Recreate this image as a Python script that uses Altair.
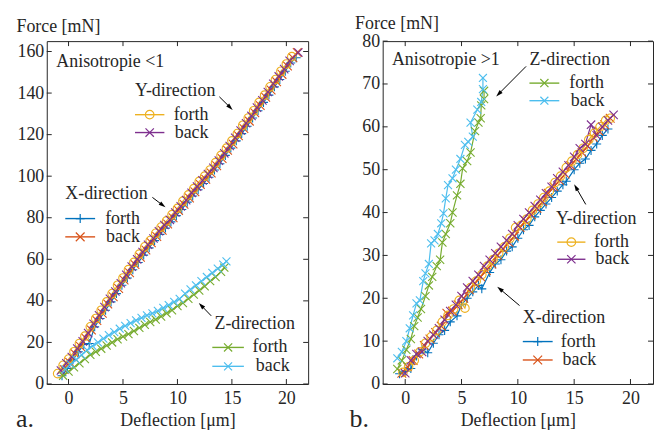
import math
import altair as alt
import pandas as pd

FONT = "Liberation Serif"
INK = "#262626"

SERIES = ["X forth", "X back", "Y forth", "Y back", "Z forth", "Z back"]
COLORS = ["#0072BD", "#D95319", "#EDB120", "#7E2F8E", "#77AC30", "#4DBEEE"]
PLUS = "M-1,0L1,0M0,-1L0,1"
CROSS = "M-1,-1L1,1M-1,1L1,-1"
SHAPES = [PLUS, CROSS, "circle", CROSS, CROSS, CROSS]
SIZES = [81, 64, 70, 64, 64, 64]
HEAD = "M0,-1L0.6,1L-0.6,1Z"

X_TICKS = [0, 5, 10, 15, 20]
A_Y_TICKS = [0, 20, 40, 60, 80, 100, 120, 140, 160]
B_Y_TICKS = [0, 10, 20, 30, 40, 50, 60, 70, 80]

# ---------------- panel a data ----------------
A_XF_X = [-0.6, -0.1, 0.4, 0.9, 1.4, 1.9, 2.4, 2.9, 3.4, 3.9, 4.4, 4.9, 5.4, 5.9, 6.4, 6.9, 7.4, 7.9, 8.4, 8.9, 9.4, 9.9,
          10.4, 10.9, 11.4, 11.9, 12.4, 12.9, 13.4, 13.9, 14.4, 14.9, 15.4, 15.9, 16.4, 16.9, 17.4, 17.9, 18.4, 18.9, 19.4,
          19.9, 20.4, 20.9]
A_XF_Y = [4.0, 7.5, 11.5, 15.5, 19.0, 19.5, 27.5, 31.5, 35.5, 39.5, 43.5, 47.5, 51.0, 55.0, 58.5, 62.0, 65.5, 69.0, 72.0,
          75.0, 78.0, 81.0, 84.0, 87.5, 90.5, 93.5, 96.5, 99.5, 103.0, 106.0, 110.0, 113.5, 117.0, 120.5, 124.0, 128.0,
          131.5, 135.5, 139.0, 143.0, 146.5, 150.5, 154.5, 157.0]
A_XB_X = [-0.4, 0.1, 0.6, 1.1, 1.6, 2.1, 2.6, 3.1, 3.6, 4.1, 4.6, 5.1, 5.6, 6.1, 6.6, 7.1, 7.6, 8.1, 8.6, 9.1, 9.6, 10.1,
          10.6, 11.1, 11.6, 12.1, 12.6, 13.1, 13.6, 14.1, 14.6, 15.1, 15.6, 16.1, 16.6, 17.1, 17.6, 18.1, 18.6, 19.1, 19.6,
          20.1, 20.6, 21.0]
A_XB_Y = [7.0, 10.5, 14.5, 18.0, 22.0, 26.0, 30.5, 34.0, 38.5, 42.0, 46.0, 50.0, 53.5, 57.5, 61.0, 64.5, 68.0, 71.0, 74.0,
          77.0, 80.0, 83.5, 86.5, 89.5, 92.5, 96.0, 98.5, 101.5, 105.0, 108.5, 112.5, 115.5, 119.5, 123.0, 126.5, 130.5,
          134.0, 138.0, 141.5, 145.5, 149.0, 153.0, 157.0, 159.5]
A_YF_X = [-1.0, -0.5, 0.0, 0.5, 1.0, 1.5, 2.0, 2.5, 3.0, 3.5, 4.0, 4.5, 5.0, 5.5, 6.0, 6.5, 7.0, 7.5, 8.0, 8.5, 9.0, 9.5,
          10.0, 10.5, 11.0, 11.5, 12.0, 12.5, 13.0, 13.5, 14.0, 14.5, 15.0, 15.5, 16.0, 16.5, 17.0, 17.5, 18.0, 18.5, 19.0,
          19.5, 20.0, 20.5]
A_YF_Y = [5.0, 9.0, 12.0, 15.5, 19.5, 23.0, 27.5, 31.5, 35.5, 39.5, 43.5, 47.5, 51.0, 55.0, 58.5, 62.5, 66.0, 69.0, 72.5,
          75.5, 78.5, 81.5, 84.5, 88.0, 91.0, 94.0, 97.5, 100.0, 103.0, 106.5, 110.0, 113.5, 117.0, 120.5, 124.5, 128.0,
          131.5, 135.5, 139.0, 143.0, 146.5, 150.5, 154.0, 157.5]
A_YB_X = [-0.7, -0.2, 0.3, 0.8, 1.3, 1.8, 2.3, 2.8, 3.3, 3.8, 4.3, 4.8, 5.3, 5.8, 6.3, 6.8, 7.3, 7.8, 8.3, 8.8, 9.3, 9.8,
          10.3, 10.8, 11.3, 11.8, 12.3, 12.8, 13.3, 13.8, 14.3, 14.8, 15.3, 15.8, 16.3, 16.8, 17.3, 17.8, 18.3, 18.8, 19.3,
          19.8, 20.3, 21.1]
A_YB_Y = [6.5, 10.0, 13.0, 17.0, 20.5, 24.5, 29.0, 33.0, 37.0, 41.0, 44.5, 48.5, 52.5, 56.5, 60.0, 63.5, 67.0, 70.0, 73.5,
          76.5, 79.0, 82.5, 85.5, 88.5, 92.0, 95.0, 98.0, 101.0, 104.0, 107.5, 111.0, 114.5, 118.5, 122.0, 125.5, 129.0,
          133.0, 136.5, 140.5, 144.5, 148.0, 151.5, 155.5, 159.5]
A_ZF_X = [-0.5, 0.0, 0.5, 1.0, 1.5, 2.0, 2.5, 3.0, 3.5, 4.0, 4.5, 5.0, 5.5, 6.0, 6.5, 7.0, 7.5, 8.0, 8.5, 9.0, 9.5, 10.0,
          10.5, 11.0, 11.5, 12.0, 12.5, 13.0, 13.5, 14.0, 14.3]
A_ZF_Y = [4.0, 6.0, 8.0, 10.0, 12.0, 14.0, 15.5, 17.0, 18.5, 20.0, 21.5, 22.8, 24.0, 25.5, 27.0, 28.5, 29.8, 31.0, 32.5,
          34.0, 35.5, 37.5, 39.0, 41.0, 43.0, 45.0, 47.0, 49.5, 51.5, 54.0, 56.0]
A_ZB_X = [-0.3, 0.2, 0.7, 1.2, 1.7, 2.2, 2.7, 3.2, 3.7, 4.2, 4.7, 5.2, 5.7, 6.2, 6.7, 7.2, 7.7, 8.2, 8.7, 9.2, 9.7, 10.2,
          10.7, 11.2, 11.7, 12.2, 12.7, 13.2, 13.7, 14.2, 14.5]
A_ZB_Y = [7.0, 9.5, 11.7, 14.0, 16.3, 18.3, 20.0, 21.8, 23.5, 25.0, 26.6, 28.0, 29.3, 30.6, 31.8, 33.0, 34.0, 35.2, 36.6,
          38.0, 39.5, 41.0, 43.5, 45.5, 47.5, 49.5, 51.5, 53.5, 55.5, 57.5, 59.0]

# ---------------- panel b data ----------------
B_XF_X = [-0.5, 0.0, 0.5, 1.0, 1.5, 2.0, 2.5, 3.0, 3.5, 4.0, 4.6, 5.0, 5.5, 6.0, 6.5, 6.8, 7.5, 8.0, 8.5, 9.0, 9.5, 10.0,
          10.5, 11.0, 11.5, 12.0, 12.5, 13.0, 13.5, 14.0, 14.3, 15.0, 15.5, 16.0, 16.5, 17.0, 17.5, 18.0]
B_XF_Y = [2.4, 3.0, 3.6, 6.5, 8.0, 7.3, 9.5, 11.5, 12.5, 14.5, 15.9, 18.5, 20.0, 21.5, 23.0, 22.2, 26.0, 28.0, 29.0, 31.0,
          32.0, 34.0, 36.0, 37.0, 39.0, 40.5, 42.0, 43.5, 45.0, 46.5, 47.3, 50.0, 51.5, 52.5, 54.5, 56.0, 58.0, 59.5]
B_XB_X = [-0.3, 0.2, 0.7, 1.2, 1.7, 2.2, 2.7, 3.2, 3.7, 4.2, 4.7, 5.2, 5.7, 6.2, 6.7, 7.2, 7.7, 8.2, 8.7, 9.2, 9.7, 10.2,
          10.7, 11.2, 11.7, 12.2, 12.7, 13.2, 13.7, 14.2, 14.7, 15.2, 15.7, 16.2, 16.7, 17.2, 17.7, 18.2]
B_XB_Y = [2.5, 4.0, 5.5, 7.0, 9.0, 10.5, 12.0, 13.5, 16.5, 17.0, 18.5, 20.0, 22.0, 23.5, 25.0, 26.5, 28.0, 30.0, 31.5,
          33.0, 34.5, 36.5, 38.0, 39.5, 41.0, 42.5, 44.5, 46.0, 47.5, 49.0, 51.0, 52.5, 54.0, 55.5, 57.5, 59.0, 60.5, 62.0]
B_YF_X = [-0.2, 0.3, 0.8, 1.3, 1.8, 2.3, 2.8, 3.3, 3.8, 4.3, 4.8, 5.3, 5.8, 6.3, 6.8, 7.3, 7.8, 8.3, 8.8, 9.3, 9.8, 10.3,
          10.8, 11.3, 11.8, 12.3, 12.8, 13.3, 13.8, 14.3, 14.8, 15.3, 15.8, 16.3, 16.8, 17.3, 17.8, 18.2]
B_YF_Y = [2.7, 4.0, 5.5, 7.5, 9.5, 11.0, 12.5, 14.5, 16.0, 17.5, 19.5, 17.7, 22.5, 24.0, 25.5, 27.5, 29.0, 30.5, 32.0,
          34.0, 36.5, 37.0, 38.5, 40.5, 42.0, 43.5, 45.0, 47.0, 48.5, 50.5, 52.0, 53.5, 55.0, 57.0, 58.5, 60.0, 61.5, 62.0]
B_YB_X = [0.0, 0.5, 1.0, 1.5, 2.0, 2.5, 3.0, 3.5, 4.0, 4.5, 5.0, 5.5, 6.0, 6.5, 7.0, 7.5, 8.0, 8.5, 9.0, 9.5, 10.0, 10.5,
          11.0, 11.5, 12.0, 12.5, 13.0, 13.5, 14.0, 14.5, 15.0, 15.5, 16.0, 16.5, 17.0, 17.5, 18.0, 18.5]
B_YB_Y = [2.5, 5.5, 7.0, 7.5, 10.0, 11.5, 13.0, 15.0, 17.0, 18.5, 20.5, 22.5, 24.0, 25.5, 27.5, 29.0, 30.5, 32.0, 33.5,
          35.0, 37.0, 38.5, 40.0, 41.5, 43.0, 44.5, 46.0, 48.0, 49.5, 51.0, 53.0, 55.0, 56.0, 60.5, 58.0, 60.0, 61.5, 62.8]
B_ZF_X = [-0.7, -0.3, 0.1, 0.5, 0.8, 1.1, 1.4, 1.8, 2.1, 2.4, 2.8, 3.1, 3.3, 3.6, 4.0, 4.2, 4.6, 4.9, 5.1, 5.5, 5.8, 6.2,
          6.5, 6.7, 6.75, 7.0, 7.0]
B_ZF_Y = [3.5, 5.5, 8.0, 10.5, 13.5, 15.5, 17.5, 20.5, 23.0, 25.0, 27.5, 29.0, 33.0, 35.0, 37.5, 40.0, 44.0, 46.7, 50.3,
          52.0, 54.0, 59.0, 61.0, 62.0, 65.0, 66.5, 68.4]
B_ZB_X = [-0.7, -0.3, 0.1, 0.4, 0.7, 1.0, 1.3, 1.6, 1.8, 2.1, 2.3, 2.6, 2.9, 3.2, 3.4, 3.6, 3.8, 4.2, 4.5, 4.9, 5.3, 5.6,
          6.0, 5.8, 6.4, 6.75, 6.9, 6.9]
B_ZB_Y = [6.0, 7.5, 10.0, 13.0, 16.0, 18.8, 19.5, 24.0, 25.8, 28.0, 32.8, 33.5, 35.0, 37.5, 39.8, 43.3, 46.4, 48.0, 50.0,
          52.5, 55.8, 56.5, 57.7, 61.0, 64.0, 65.8, 68.8, 71.4]

# ---------------- annotations ----------------
A_TXT = ["Anisotropie <1", "Y-direction", "forth", "back", "X-direction", "forth", "back", "Z-direction", "forth", "back"]
A_TXT_X = [-1.12, 6.1, 9.65, 9.75, -0.3, 3.36, 3.45, 13.4, 16.9, 17.2]
A_TXT_Y = [155.0, 141.0, 129.6, 121.0, 91.4, 79.6, 70.8, 28.8, 17.6, 8.5]
A_LEG_S = ["Y forth", "Y back", "X forth", "X back", "Z forth", "Z back"]
A_LEG_X1 = [6.1, 6.1, -0.3, -0.3, 13.2, 13.2]
A_LEG_X2 = [8.8, 8.8, 2.44, 2.44, 16.1, 16.1]
A_LEG_Y = [129.6, 121.0, 79.6, 70.8, 17.6, 8.5]
A_ARR_X1 = [13.85, 7.7, 13.1]
A_ARR_Y1 = [138.2, 89.8, 32.8]
A_ARR_X2 = [15.07, 8.9, 11.96]
A_ARR_Y2 = [131.9, 85.0, 39.0]

B_TXT = ["Anisotropie >1", "Z-direction", "forth", "back", "Y-direction", "forth", "back", "X-direction", "forth", "back"]
B_TXT_X = [-1.18, 11.03, 14.56, 14.7, 13.38, 16.77, 16.9, 10.44, 13.82, 13.97]
B_TXT_Y = [75.6, 75.6, 70.2, 66.1, 38.6, 33.1, 29.1, 15.4, 9.9, 5.6]
B_LEG_S = ["Z forth", "Z back", "Y forth", "Y back", "X forth", "X back"]
B_LEG_X1 = [11.03, 11.03, 13.5, 13.5, 10.44, 10.44]
B_LEG_X2 = [13.68, 13.68, 16.0, 16.0, 13.09, 13.09]
B_LEG_Y = [70.2, 66.1, 33.1, 29.1, 9.9, 5.6]
B_ARR_X1 = [10.73, 16.03, 10.15]
B_ARR_Y1 = [74.1, 41.9, 18.3]
B_ARR_X2 = [8.08, 15.0, 8.17]
B_ARR_Y2 = [67.1, 46.6, 22.7]

W_A, W_B, H = 263, 272, 345
X_DOM = [-2, 22]
A_Y_DOM = [0, 165]
B_Y_DOM = [0, 80]

cscale = alt.Scale(domain=SERIES, range=COLORS)
shscale = alt.Scale(domain=SERIES, range=SHAPES)
szscale = alt.Scale(domain=SERIES, range=SIZES)


def curves_df(pairs):
    rows = []
    for name, xs, ys in pairs:
        for i, (x, y) in enumerate(zip(xs, ys)):
            rows.append({"s": name, "x": x, "y": y, "i": i})
    return pd.DataFrame(rows)


def panel(tag, tag_dx, curves, yticks, ydom, W, title_dx, title_dy,
          txt, txt_x, txt_y, leg_s, leg_x1, leg_x2, leg_y, ax1, ay1, ax2, ay2):
    xs = alt.Scale(domain=X_DOM, nice=False, zero=False)
    ys = alt.Scale(domain=ydom, nice=False, zero=False)
    xaxis = alt.Axis(values=X_TICKS, title="Deflection [\u03bcm]", titleX=W / 2, titleY=42.2,
                     titleAlign="center", titleBaseline="alphabetic", labelPadding=6)
    yaxis = alt.Axis(values=yticks, title="Force [mN]", titleAngle=0, titleAlign="left",
                     titleBaseline="alphabetic", titleX=title_dx, titleY=title_dy, labelPadding=3)

    def X(f):
        return alt.X(f, type="quantitative", scale=xs, axis=xaxis)

    def Y(f):
        return alt.Y(f, type="quantitative", scale=ys, axis=yaxis)

    layers = []
    xt = pd.DataFrame({"v": X_TICKS})
    yt = pd.DataFrame({"v": yticks})
    tick = dict(color=INK, strokeWidth=1)
    layers.append(alt.Chart(xt).mark_rule(**tick).encode(x=X("v"), y=alt.value(0), y2=alt.value(5)))
    layers.append(alt.Chart(xt).mark_rule(**tick).encode(x=X("v"), y=alt.value(H), y2=alt.value(H - 5)))
    layers.append(alt.Chart(yt).mark_rule(**tick).encode(y=Y("v"), x=alt.value(0), x2=alt.value(5)))
    layers.append(alt.Chart(yt).mark_rule(**tick).encode(y=Y("v"), x=alt.value(W), x2=alt.value(W - 5)))

    df = curves_df(curves)
    color = alt.Color("s:N", scale=cscale, legend=None)
    shape = alt.Shape("s:N", scale=shscale, legend=None)
    size = alt.Size("s:N", scale=szscale, legend=None)
    layers.append(alt.Chart(df).mark_line(strokeWidth=1.2).encode(
        x=X("x"), y=Y("y"), color=color, order=alt.Order("i:Q")))
    layers.append(alt.Chart(df).mark_point(filled=False, strokeWidth=1.1, opacity=1).encode(
        x=X("x"), y=Y("y"), color=color, shape=shape, size=size))

    leg = pd.DataFrame({"s": leg_s, "x1": leg_x1, "x2": leg_x2, "y": leg_y})
    leg["xm"] = (leg["x1"] + leg["x2"]) / 2
    layers.append(alt.Chart(leg).mark_rule(strokeWidth=1.4).encode(
        x=X("x1"), x2="x2:Q", y=Y("y"), color=color))
    layers.append(alt.Chart(leg).mark_point(filled=False, strokeWidth=1.2, opacity=1).encode(
        x=X("xm"), y=Y("y"), color=color, shape=shape, size=size))

    tdf = pd.DataFrame({"t": txt, "x": txt_x, "y": txt_y})
    layers.append(alt.Chart(tdf).mark_text(align="left", baseline="middle", font=FONT, fontSize=18,
                                           color=INK).encode(x=X("x"), y=Y("y"), text="t:N"))

    # arrows
    kx = W / (X_DOM[1] - X_DOM[0])
    ky = H / (ydom[1] - ydom[0])
    L = 7.0
    rows = []
    for x1, y1, x2, y2 in zip(ax1, ay1, ax2, ay2):
        dx = (x2 - x1) * kx
        dy = -(y2 - y1) * ky
        n = math.hypot(dx, dy)
        ux, uy = dx / n, dy / n
        ang = math.degrees(math.atan2(ux, -uy)) % 360
        cx = x2 - ux * L / 2 / kx
        cy = y2 + uy * L / 2 / ky
        rows.append({"x1": x1, "y1": y1, "cx": cx, "cy": cy, "a": ang})
    adf = pd.DataFrame(rows)
    layers.append(alt.Chart(adf).mark_rule(color="black", strokeWidth=1).encode(
        x=X("x1"), y=Y("y1"), x2="cx:Q", y2="cy:Q"))
    layers.append(alt.Chart(adf).mark_point(filled=True, color="black", shape=HEAD, size=L * L,
                                            opacity=1).encode(
        x=X("cx"), y=Y("cy"), angle=alt.Angle("a:Q", scale=None)))

    layers.append(alt.Chart(pd.DataFrame({"t": [tag]})).mark_text(
        align="left", baseline="alphabetic", font=FONT, fontSize=26, color=INK).encode(
        x=alt.value(tag_dx), y=alt.value(H + 43.5), text="t:N"))

    return alt.layer(*layers).properties(width=W, height=H)


pa = panel("a.", -31, [("X forth", A_XF_X, A_XF_Y), ("X back", A_XB_X, A_XB_Y), ("Y forth", A_YF_X, A_YF_Y),
                       ("Y back", A_YB_X, A_YB_Y), ("Z forth", A_ZF_X, A_ZF_Y), ("Z back", A_ZB_X, A_ZB_Y)],
           A_Y_TICKS, A_Y_DOM, W_A, -31, -9.5,
           A_TXT, A_TXT_X, A_TXT_Y, A_LEG_S, A_LEG_X1, A_LEG_X2, A_LEG_Y,
           A_ARR_X1, A_ARR_Y1, A_ARR_X2, A_ARR_Y2)

pb = panel("b.", -33.3, [("X forth", B_XF_X, B_XF_Y), ("X back", B_XB_X, B_XB_Y), ("Y forth", B_YF_X, B_YF_Y),
                         ("Y back", B_YB_X, B_YB_Y), ("Z forth", B_ZF_X, B_ZF_Y), ("Z back", B_ZB_X, B_ZB_Y)],
           B_Y_TICKS, B_Y_DOM, W_B, -28.3, -12.7,
           B_TXT, B_TXT_X, B_TXT_Y, B_LEG_S, B_LEG_X1, B_LEG_X2, B_LEG_Y,
           B_ARR_X1, B_ARR_Y1, B_ARR_X2, B_ARR_Y2)

chart = alt.hconcat(pa, pb, spacing=75, bounds="flush").properties(
    padding={"left": 7, "top": 4, "right": 0, "bottom": 0}
).configure_view(stroke=INK, strokeWidth=1).configure_axis(
    labelFont=FONT, labelFontSize=18, labelColor=INK, titleFont=FONT, titleFontSize=18,
    titleFontWeight="normal", titleColor=INK, ticks=False, domain=False, grid=False
)

chart.save("out.html", embed_options={"renderer": "svg", "actions": False})
